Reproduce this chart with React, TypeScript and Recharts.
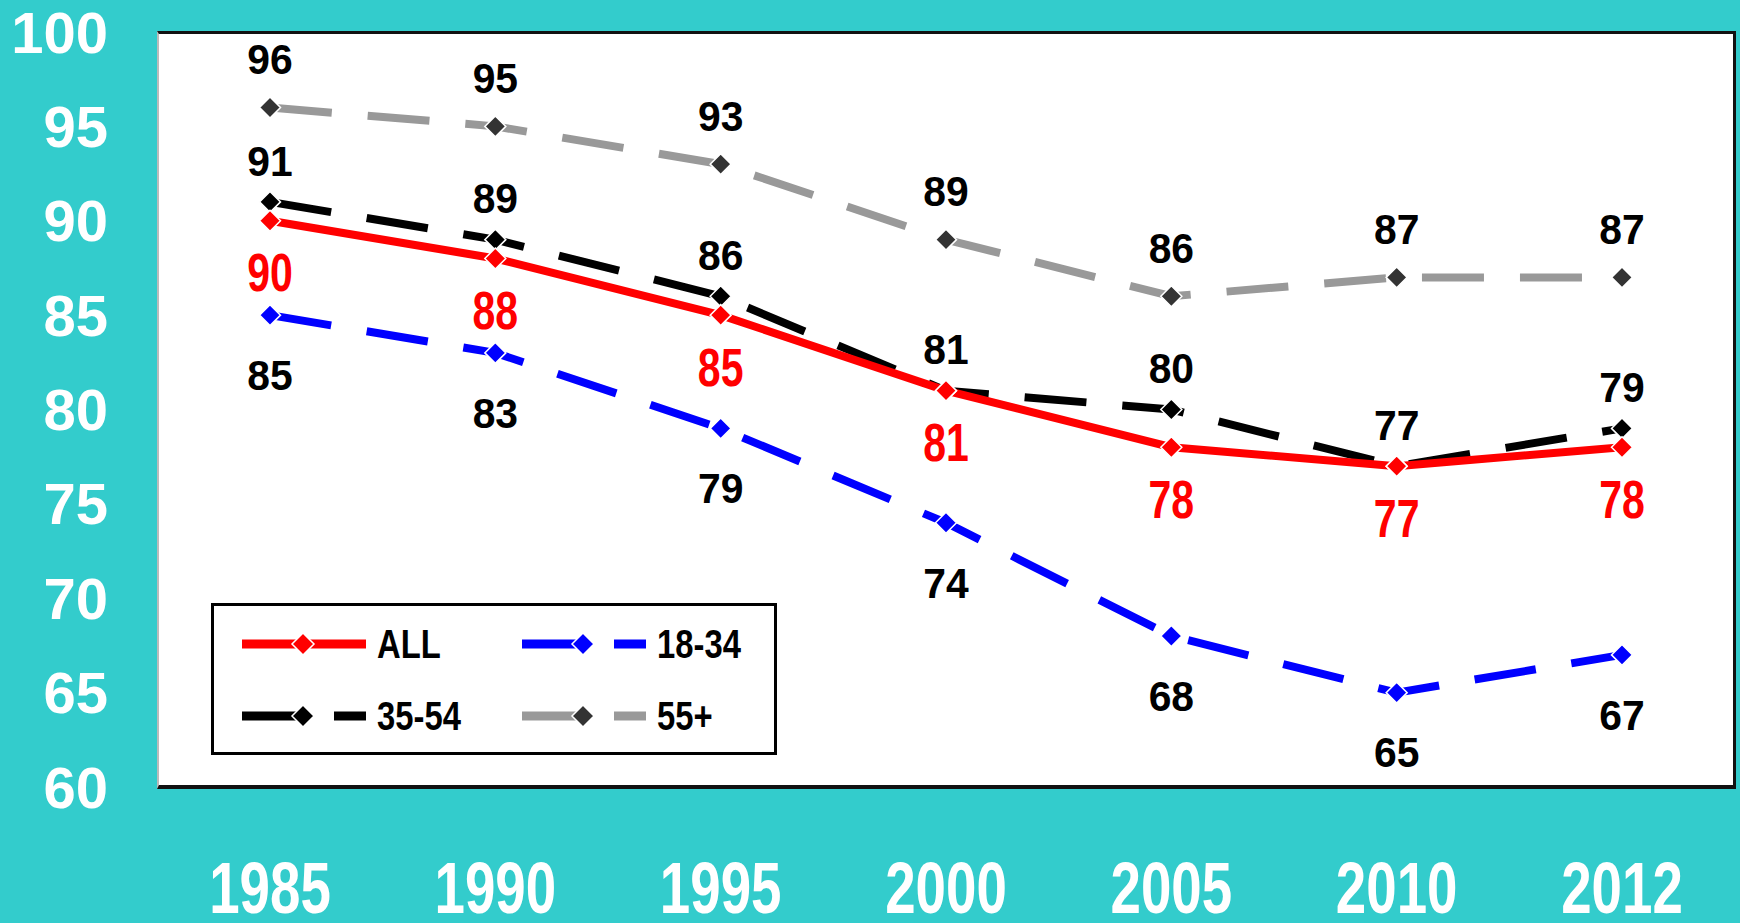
import { LineChart, Line, XAxis, YAxis, CartesianGrid, Legend, LabelList } from 'recharts'

// ── data ──────────────────────────────────────────────────────────────────
const years = ['1985', '1990', '1995', '2000', '2005', '2010', '2012']
const allAges = [90, 88, 85, 81, 78, 77, 78]
const age18to34 = [85, 83, 79, 74, 68, 65, 67]
const age35to54 = [91, 89, 86, 81, 80, 77, 79]
const age55plus = [96, 95, 93, 89, 86, 87, 87]
const yTicks = [60, 65, 70, 75, 80, 85, 90, 95, 100]

const data = years.map((year, i) => ({
  year,
  all: allAges[i],
  young: age18to34[i],
  mid: age35to54[i],
  old: age55plus[i],
}))

const TEAL = '#33CCCC'
const FONT = '"Liberation Sans", Arial, Helvetica, sans-serif'

interface SeriesDef {
  key: 'all' | 'young' | 'mid' | 'old'
  name: string
  stroke: string
  marker: string
  dash?: string
  labelColor: string
  labelSize: number
  labelScale: number
  labelDy: number
}

const series: SeriesDef[] = [
  { key: 'young', name: '18-34', stroke: '#0000FF', marker: '#0000FF', dash: '62 36', labelColor: '#000', labelSize: 43, labelScale: 0.95, labelDy: 60 },
  { key: 'old',   name: '55+',   stroke: '#999999', marker: '#333333', dash: '62 36', labelColor: '#000', labelSize: 43, labelScale: 0.95, labelDy: -48 },
  { key: 'mid',   name: '35-54', stroke: '#000000', marker: '#000000', dash: '62 36', labelColor: '#000', labelSize: 43, labelScale: 0.95, labelDy: -41 },
  { key: 'all',   name: 'ALL',   stroke: '#FF0000', marker: '#FF0000', labelColor: '#FF0000', labelSize: 54, labelScale: 0.76, labelDy: 52 },
]

const legendOrder = ['all', 'young', 'mid', 'old']

function diamond(cx: number, cy: number, r: number) {
  return `M${cx},${cy - r} L${cx + r},${cy} L${cx},${cy + r} L${cx - r},${cy} Z`
}

const makeDot = (fill: string) => (props: any) => {
  const { cx, cy, index } = props
  if (cx == null || cy == null) return <g key={`d-${index}`} />
  return <path key={`d-${index}`} d={diamond(cx, cy, 10.5)} fill={fill} stroke="#fff" strokeWidth={1.5} />
}

const makeLabel = (s: SeriesDef) => (props: any) => {
  const { x, y, value, index } = props
  return (
    <text
      key={`l-${index}`}
      transform={`translate(${x} ${y + s.labelDy}) scale(${s.labelScale} 1)`}
      textAnchor="middle"
      dominantBaseline="central"
      fill={s.labelColor}
      fontFamily={FONT}
      fontWeight="bold"
      fontSize={s.labelSize}
    >
      {value}
    </text>
  )
}

function YTick({ x, y, payload }: any) {
  return (
    <text x={x} y={y} textAnchor="end" dominantBaseline="central" fill="#fff" fontFamily={FONT} fontWeight="bold" fontSize={58}>
      {payload.value}
    </text>
  )
}

function XTick({ x, y, payload }: any) {
  return (
    <text
      transform={`translate(${x} ${y + 101}) scale(0.76 1)`}
      textAnchor="middle"
      dominantBaseline="central"
      fill="#fff"
      fontFamily={FONT}
      fontWeight="bold"
      fontSize={72}
    >
      {payload.value}
    </text>
  )
}

function LegendBox() {
  const byKey = Object.fromEntries(series.map((s) => [s.key, s]))
  return (
    <div
      style={{
        width: 566,
        height: 152,
        boxSizing: 'border-box',
        border: '3px solid #000',
        background: '#fff',
        display: 'grid',
        gridTemplateColumns: '280px 250px',
        gridTemplateRows: '72px 72px',
        paddingLeft: 28,
        paddingTop: 2,
      }}
    >
      {legendOrder.map((k) => {
        const s = byKey[k]
        return (
          <div key={k} style={{ display: 'flex', alignItems: 'center', whiteSpace: 'nowrap' }}>
            <svg width={135} height={30} style={{ flex: 'none' }}>
              <line x1={0} y1={15} x2={124} y2={15} stroke={s.stroke} strokeWidth={9} strokeDasharray={s.dash ? '58 34' : undefined} />
              <path d={diamond(61, 15, 11)} fill={s.marker} stroke="#fff" strokeWidth={1.5} />
            </svg>
            <span
              style={{
                display: 'inline-block',
                fontFamily: FONT,
                fontWeight: 'bold',
                fontSize: 41,
                color: '#000',
                lineHeight: 1,
                transform: 'scaleX(0.8)',
                transformOrigin: 'left center',
              }}
            >
              {s.name}
            </span>
          </div>
        )
      })}
    </div>
  )
}

export default function App() {
  return (
    <div style={{ position: 'absolute', left: 0, top: 0, width: 1740, height: 923, background: TEAL, overflow: 'hidden' }}>
      <LineChart width={1740} height={923} data={data} margin={{ top: 32, right: 5, bottom: 0, left: 0 }}>
        <CartesianGrid fill="#fff" horizontal={false} vertical={false} />
        <XAxis
          dataKey="year"
          height={136}
          padding={{ left: 112, right: 113 }}
          axisLine={false}
          tickLine={false}
          tickSize={0}
          tickMargin={0}
          tick={<XTick />}
          interval={0}
        />
        <YAxis
          domain={[60, 100]}
          ticks={yTicks}
          width={158}
          axisLine={false}
          tickLine={false}
          tickSize={0}
          tickMargin={50}
          tick={<YTick />}
          interval={0}
        />
        <Legend
          verticalAlign="middle"
          align="center"
          layout="horizontal"
          content={<LegendBox />}
          wrapperStyle={{ position: 'absolute', left: 211, top: 603, width: 566, height: 152 }}
        />
        {series.map((s) => (
          <Line
            key={s.key}
            dataKey={s.key}
            name={s.name}
            type="linear"
            stroke={s.stroke}
            strokeWidth={8}
            strokeDasharray={s.dash}
            dot={makeDot(s.marker)}
            activeDot={false}
            isAnimationActive={false}
          >
            <LabelList dataKey={s.key} content={makeLabel(s)} />
          </Line>
        ))}
      </LineChart>
      <div
        style={{
          position: 'absolute',
          left: 157,
          top: 31,
          width: 1579,
          height: 758,
          boxSizing: 'border-box',
          borderTop: '3px solid #111',
          borderRight: '3px solid #111',
          borderBottom: '4px solid #111',
          borderLeft: '2px solid #bbb',
          pointerEvents: 'none',
        }}
      />
    </div>
  )
}
